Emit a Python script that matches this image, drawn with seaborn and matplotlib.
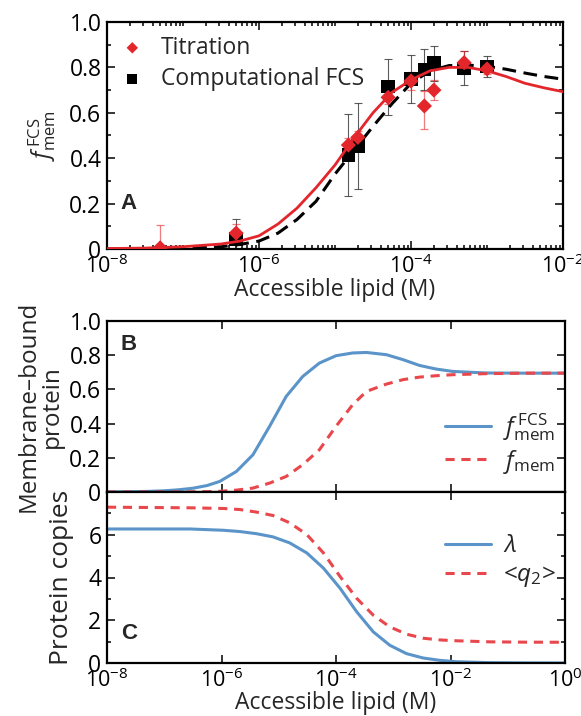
import numpy as np
import matplotlib
matplotlib.use("Agg")
import matplotlib.pyplot as plt
import seaborn as sns
from matplotlib.ticker import FixedLocator, FixedFormatter, MultipleLocator

#%% data

# panel A: measured points (x in M)
titr_x = [5e-8, 5e-7, 1.5e-5, 2e-5, 5e-5, 1e-4, 1.5e-4, 2e-4, 5e-4, 1e-3]
titr_y = [0.005, 0.07, 0.458, 0.492, 0.668, 0.740, 0.63, 0.70, 0.821, 0.793]
titr_lo = [0.0, 0.04, 0.03, 0.03, 0.03, 0.04, 0.10, 0.045, 0.05, 0.02]
titr_hi = [0.10, 0.04, 0.03, 0.03, 0.03, 0.04, 0.065, 0.045, 0.05, 0.02]

comp_x = [5e-7, 1.5e-5, 2e-5, 5e-5, 1e-4, 1.5e-4, 2e-4, 5e-4, 1e-3]
comp_y = [0.045, 0.414, 0.454, 0.715, 0.749, 0.79, 0.821, 0.796, 0.803]
comp_lo = [0.045, 0.18, 0.19, 0.125, 0.105, 0.09, 0.08, 0.075, 0.047]
comp_hi = [0.085, 0.18, 0.19, 0.12, 0.105, 0.09, 0.075, 0.075, 0.047]

# panel A: model curves (log10 of lipid conc.)
log_a = [-8, -7.5, -7, -6.5, -6.25, -6, -5.75, -5.5, -5.25, -5, -4.75, -4.5, -4.25,
         -4, -3.75, -3.5, -3.25, -3, -2.75, -2.5, -2.25, -2]
fit_red = [0.002, 0.004, 0.01, 0.022, 0.035, 0.058, 0.11, 0.18, 0.27, 0.37, 0.49, 0.60, 0.69,
           0.745, 0.785, 0.80, 0.80, 0.785, 0.76, 0.73, 0.71, 0.693]
fit_black = [0.0, 0.001, 0.003, 0.01, 0.02, 0.035, 0.07, 0.13, 0.21, 0.33, 0.435, 0.54, 0.64,
             0.73, 0.785, 0.808, 0.81, 0.805, 0.792, 0.775, 0.76, 0.748]

# panel B
log_b = [-8, -7.5, -7.25, -7, -6.75, -6.5, -6.25, -6.03, -5.74, -5.45, -5.16, -4.87, -4.58,
         -4.29, -4.0, -3.71, -3.47, -3.12, -2.83, -2.54, -2.25, -1.96, -1.38, -0.7, 0]
f_fcs = [0.0, 0.002, 0.004, 0.007, 0.013, 0.022, 0.038, 0.062, 0.12, 0.218, 0.384, 0.559,
         0.676, 0.754, 0.797, 0.813, 0.816, 0.803, 0.774, 0.740, 0.719, 0.705, 0.696,
         0.695, 0.695]
f_mem = [0.0, 0.0, 0.0, 0.0, 0.0, 0.001, 0.002, 0.004, 0.011, 0.023, 0.052, 0.091, 0.16,
         0.247, 0.384, 0.51, 0.588, 0.631, 0.657, 0.672, 0.680, 0.686, 0.692, 0.695, 0.695]

# panel C
log_c = [-8, -6.55, -5.97, -5.68, -5.39, -5.10, -4.81, -4.51, -4.22, -3.93, -3.64, -3.35,
         -3.06, -2.77, -2.48, -2.19, -1.90, -1.32, -0.7, 0]
lam = [6.27, 6.27, 6.21, 6.15, 6.05, 5.9, 5.62, 5.15, 4.44, 3.5, 2.4, 1.46,
       0.83, 0.44, 0.235, 0.125, 0.06, 0.016, 0.004, 0.0]
q2 = [7.29, 7.26, 7.23, 7.18, 7.06, 6.9, 6.56, 6.01, 5.15, 4.05, 3.03, 2.24,
      1.69, 1.35, 1.16, 1.08, 1.04, 0.99, 0.975, 0.97]

ytick_a = [0, 0.2, 0.4, 0.6, 0.8, 1.0]
ytick_a_lab = ["0", "0.2", "0.4", "0.6", "0.8", "1.0"]
ytick_c = [0, 2, 4, 6]
ytick_c_lab = ["0", "2", "4", "6"]

#%% style

sns.set_style("ticks")
plt.rcParams['font.family'] = ['Open Sans', 'DejaVu Sans']
plt.rcParams['mathtext.fontset'] = 'custom'
plt.rcParams['mathtext.rm'] = 'Open Sans'
plt.rcParams['mathtext.it'] = 'Open Sans:italic'
plt.rcParams['mathtext.bf'] = 'Open Sans:bold'
plt.rcParams['axes.edgecolor'] = 'black'

YTS = 16.5   # y tick labels
XTS = 15.5   # x tick labels
LS = 16.5    # axis labels
red = '#e3262b'
red_light = '#e8474c'
blue = '#5a94c8'


def style_axis(ax):
    ax.tick_params(which='both', direction='in', top=True, right=True,
                   colors='black', width=1.1)
    ax.tick_params(which='major', length=6)
    ax.tick_params(which='minor', length=3)
    ax.tick_params(axis='y', labelsize=YTS, pad=4)
    ax.tick_params(axis='x', labelsize=XTS, pad=4)
    for s in ax.spines.values():
        s.set_visible(True)
        s.set_linewidth(1.6)


fig = plt.figure(figsize=(5.81, 7.16), dpi=100)
W, H = 581.0, 716.0
axA = fig.add_axes([107 / W, 1 - 249 / H, (563 - 107) / W, (249 - 22) / H])
axB = fig.add_axes([107 / W, 1 - 492 / H, (565 - 107) / W, (492 - 321) / H])
axC = fig.add_axes([107 / W, 1 - 663 / H, (565 - 107) / W, (663 - 492) / H])

#%% panel A

xa = 10.0 ** np.array(log_a)
sns.lineplot(x=xa, y=fit_black, ax=axA, color='black', lw=2.2, zorder=2)
axA.lines[-1].set_dashes([4.5, 2.5])
sns.lineplot(x=xa, y=fit_red, ax=axA, color=red, lw=2.0, zorder=4)

axA.errorbar(comp_x, comp_y, yerr=[comp_lo, comp_hi], fmt='none', ecolor='#333333',
             elinewidth=0.8, capsize=3, capthick=0.8, alpha=0.8, zorder=1)
axA.errorbar(titr_x, titr_y, yerr=[titr_lo, titr_hi], fmt='none', ecolor=red,
             elinewidth=0.9, capsize=3, capthick=0.9, alpha=0.6, zorder=1)
sns.scatterplot(x=comp_x, y=comp_y, ax=axA, marker='s', s=95, color='black',
                edgecolor='none', zorder=3, label='Computational FCS')
sns.scatterplot(x=titr_x, y=titr_y, ax=axA, marker='D', s=60, color=red,
                edgecolor='none', zorder=5, label='Titration')

axA.set_xscale('log')
axA.set_xlim(1e-8, 1e-2)
axA.set_ylim(0, 1.0)
style_axis(axA)
axA.set_xticks([1e-8, 1e-6, 1e-4, 1e-2])
axA.xaxis.set_minor_locator(FixedLocator(
    [m * 10.0 ** e for e in range(-8, -2) for m in range(2, 10)] + [1e-7, 1e-5, 1e-3]))
axA.tick_params(axis='x', which='minor', labelbottom=False)
axA.yaxis.set_major_locator(FixedLocator(ytick_a))
axA.yaxis.set_major_formatter(FixedFormatter(ytick_a_lab))
axA.yaxis.set_minor_locator(MultipleLocator(0.1))
axA.set_xlabel('Accessible lipid (M)', fontsize=LS, labelpad=0)
axA.set_ylabel(r'$f^{\,\mathrm{FCS}}_{\mathrm{mem}}$', fontsize=17, labelpad=8)

h, l = axA.get_legend_handles_labels()
axA.legend(h[::-1], l[::-1], loc='upper left', bbox_to_anchor=(-0.04, 1.03), frameon=False,
           fontsize=16.5, handletextpad=0.25, labelspacing=0.3, markerscale=0.75)
axA.text(0.03, 0.2, 'A', transform=axA.transAxes, fontsize=16, fontweight='bold',
         family='Liberation Sans', va='center')

#%% panel B

xb = 10.0 ** np.array(log_b)
sns.lineplot(x=xb, y=f_fcs, ax=axB, color=blue, lw=2.2,
             label=r'$f^{\,\mathrm{FCS}}_{\mathrm{mem}}$')
sns.lineplot(x=xb, y=f_mem, ax=axB, color=red_light, lw=2.2,
             label=r'$f_{\mathrm{mem}}$')
axB.lines[-1].set_dashes([3, 2.2])
axB.set_xscale('log')
axB.set_xlim(1e-8, 1e0)
axB.set_ylim(0, 1.0)
style_axis(axB)
axB.xaxis.set_major_locator(FixedLocator([1e-8, 1e-6, 1e-4, 1e-2, 1e0]))
axB.xaxis.set_minor_locator(FixedLocator([]))
axB.tick_params(axis='x', labelbottom=False)
axB.yaxis.set_major_locator(FixedLocator(ytick_a))
axB.yaxis.set_major_formatter(FixedFormatter(ytick_a_lab))
axB.yaxis.set_minor_locator(FixedLocator([]))
axB.set_xlabel('')
axB.set_ylabel('Membrane\u2013bound\nprotein', fontsize=17.5, labelpad=4, linespacing=0.95)
axB.legend(loc='upper left', bbox_to_anchor=(0.69, 0.6), frameon=False, fontsize=17.5,
           handlelength=1.9, handletextpad=0.5, labelspacing=0.2)
axB.text(0.03, 0.86, 'B', transform=axB.transAxes, fontsize=16, fontweight='bold',
         family='Liberation Sans', va='center')

#%% panel C

xc = 10.0 ** np.array(log_c)
sns.lineplot(x=xc, y=lam, ax=axC, color=blue, lw=2.2, label=r'$\lambda$')
sns.lineplot(x=xc, y=q2, ax=axC, color=red_light, lw=2.2, label=r'<$q_2$>')
axC.lines[-1].set_dashes([3, 2.2])
axC.set_xscale('log')
axC.set_xlim(1e-8, 1e0)
axC.set_ylim(0, 8)
style_axis(axC)
axC.xaxis.set_major_locator(FixedLocator([1e-8, 1e-6, 1e-4, 1e-2, 1e0]))
axC.xaxis.set_minor_locator(FixedLocator([]))
axC.yaxis.set_major_locator(FixedLocator(ytick_c))
axC.yaxis.set_major_formatter(FixedFormatter(ytick_c_lab))
axC.yaxis.set_minor_locator(FixedLocator([1, 3, 5, 7]))
axC.set_xlabel('Accessible lipid (M)', fontsize=LS, labelpad=-1)
axC.set_ylabel('Protein copies', fontsize=19, labelpad=10)
axC.legend(loc='upper left', bbox_to_anchor=(0.69, 0.88), frameon=False, fontsize=17.5,
           handlelength=1.9, handletextpad=0.5, labelspacing=0.2)
axC.text(0.03, 0.175, 'C', transform=axC.transAxes, fontsize=16, fontweight='bold',
         family='Liberation Sans', va='center')

fig.savefig('out.png', dpi=100)
